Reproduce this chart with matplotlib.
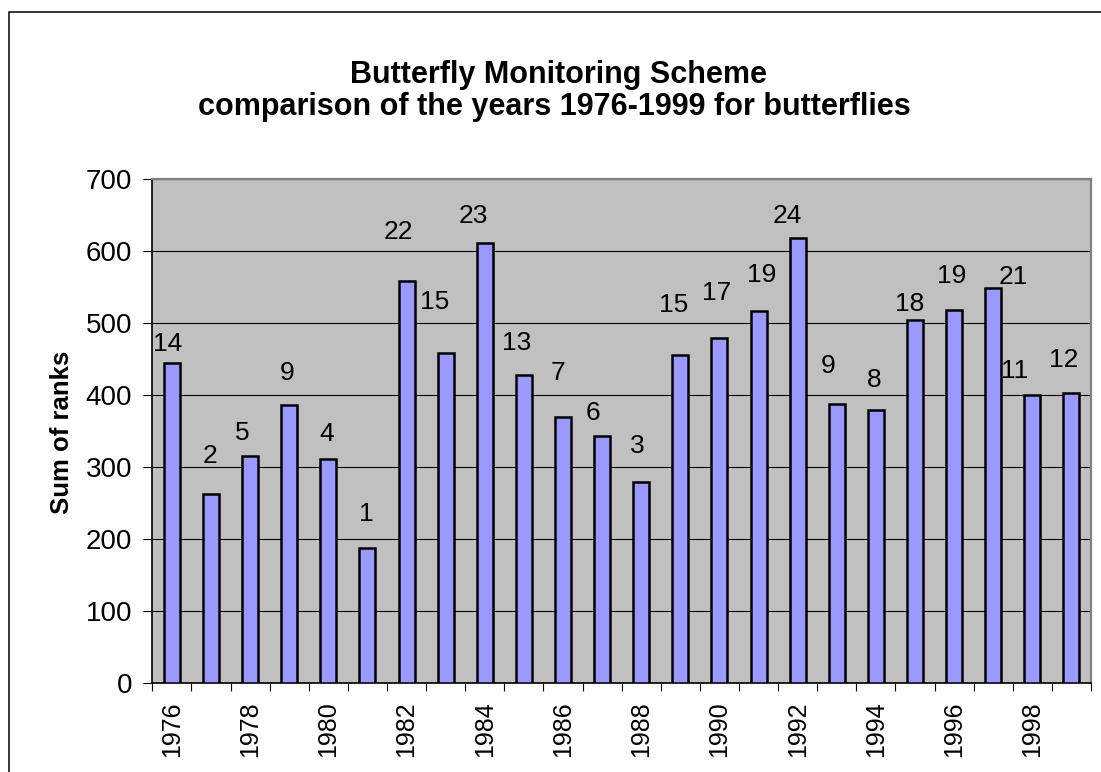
import matplotlib
matplotlib.use('Agg')
import matplotlib.pyplot as plt
from matplotlib.patches import Rectangle

plt.rcParams['font.family'] = ['Liberation Sans', 'DejaVu Sans']

# ---- data ----
years = list(range(1976, 2000))
sum_of_ranks = [444, 263, 315, 386, 311, 188, 558, 458, 611, 428, 369, 343,
                280, 456, 479, 517, 618, 388, 379, 504, 518, 549, 400, 403]
rank_labels = [14, 2, 5, 9, 4, 1, 22, 15, 23, 13, 7, 6,
               3, 15, 17, 19, 24, 9, 8, 18, 19, 21, 11, 12]
tick_years = [str(y) for y in years[::2]]
title_line1 = "Butterfly Monitoring Scheme"
title_line2 = "comparison of the years 1976-1999 for butterflies"
y_label = "Sum of ranks"

# label placement offsets (pixels, relative to bar top centre) - layout only
label_dx = [-4, -1, -8, -2, -2, -1, -8, -11, -11, -7, -5, -9,
            -4, -7, -3, 3, -10, -9, -2, -5, -2, 20, -18, -8]
label_dy = [19, 38, 23, 32, 25, 34, 49, 51, 27, 32, 44, 23,
            36, 50, 45, 36, 22, 38, 30, 16, 34, 11, 24, 33]

W, H = 1101, 772
fig = plt.figure(figsize=(W / 100, H / 100), dpi=100)
fig.patch.set_facecolor('white')

# axes placement in pixels
left, right, top, bottom = 152.3, 1091.0, 179.0, 683.3
ax = fig.add_axes([left / W, (H - bottom) / H, (right - left) / W, (bottom - top) / H])
ax.set_facecolor('#C0C0C0')

x = list(range(len(years)))
ax.bar(x, sum_of_ranks, width=0.41, color='#9999FF', edgecolor='black',
       linewidth=1.8, zorder=3)

ax.set_xlim(-0.5, len(years) - 0.5)
ax.set_ylim(0, 700)
ax.set_yticks(range(0, 701, 100))
ax.yaxis.grid(True, color='black', linewidth=0.8, zorder=1)
ax.set_axisbelow(True)

# major x ticks at category boundaries, labels on every other category
ax.set_xticks([i - 0.5 for i in range(len(years) + 1)])
ax.set_xticklabels([])
ax.set_xticks(x[::2], minor=True)
ax.set_xticklabels(tick_years, minor=True, rotation=90, fontsize=18)
ax.tick_params(axis='x', which='major', direction='out', length=5.5, width=0.8, color='black')
ax.tick_params(axis='x', which='minor', length=0, pad=13)
ax.tick_params(axis='y', direction='out', length=6.5, width=0.8, color='black',
               labelsize=20, pad=8)

for s in ['left', 'bottom']:
    ax.spines[s].set_color('black')
    ax.spines[s].set_linewidth(1.2)
for s in ['top', 'right']:
    ax.spines[s].set_color('#808080')
    ax.spines[s].set_linewidth(1.6)

for i, (v, r) in enumerate(zip(sum_of_ranks, rank_labels)):
    ax.annotate(str(r), xy=(i, v), xytext=(label_dx[i], label_dy[i]),
                textcoords='offset pixels', ha='center', va='center',
                fontsize=19, color='black', zorder=4)

# titles and y label
fig.text(558 / W, 1 - 83 / H, title_line1, ha='center', va='baseline',
         fontsize=22, fontweight='bold')
fig.text(554 / W, 1 - 115 / H, title_line2, ha='center', va='baseline',
         fontsize=22, fontweight='bold')
fig.text(62 / W, 1 - 432 / H, y_label, ha='center', va='center',
         rotation=90, fontsize=18.5, fontweight='bold')

# outer chart border (extends beyond the bottom/right edge of the image)
fig.add_artist(Rectangle((8.5 / W, -0.1), 1.2, 1.1 - 11.5 / H,
                         transform=fig.transFigure, fill=False,
                         edgecolor='black', linewidth=1.1))

fig.savefig('out.png', dpi=100, facecolor='white')
